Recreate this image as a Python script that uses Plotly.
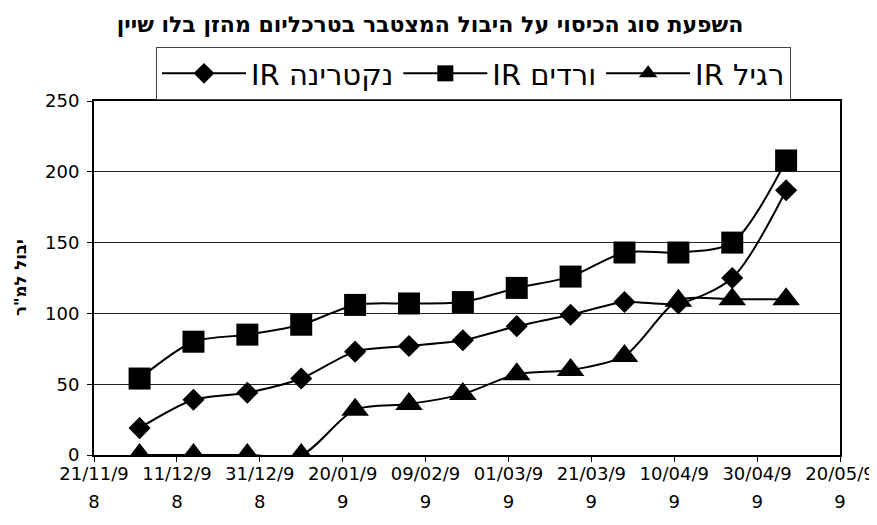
import plotly.graph_objects as go

# ---- data ----
dates = ["1998-12-02", "1998-12-15", "1998-12-28", "1999-01-10", "1999-01-23",
         "1999-02-05", "1999-02-18", "1999-03-03", "1999-03-16", "1999-03-29",
         "1999-04-11", "1999-04-24", "1999-05-07"]
nectarine_ir = [19, 39, 44, 54, 73, 77, 81, 91, 99, 108, 107, 125, 187]
roses_ir = [54, 80, 85, 92, 106, 107, 108, 118, 126, 143, 143, 150, 208]
regular_ir = [0, 0, 0, 0, 32, 36, 43, 57, 60, 70, 109, 110, 110]

series_names = ["IR נקטרינה", "IR ורדים", "IR רגיל"]

tick_dates = ["1998-11-21", "1998-12-11", "1998-12-31", "1999-01-20", "1999-02-09",
              "1999-03-01", "1999-03-21", "1999-04-10", "1999-04-30", "1999-05-20"]
tick_labels = ["21/11/98", "11/12/98", "31/12/98", "20/01/99", "09/02/99",
               "01/03/99", "21/03/99", "10/04/99", "30/04/99", "20/05/99"]

title_text = "השפעת סוג הכיסוי על היבול המצטבר בטרכליום מהזן בלו שיין"
y_title = 'יבול למ"ר'

# ---- figure ----
FONT = "DejaVu Sans"
TICK_FONT = dict(family=FONT, size=18, color="black")
fig = go.Figure()

specs = [(nectarine_ir, "diamond", 17), (roses_ir, "square", 22), (regular_ir, "triangle-up", 24)]
for name, (vals, sym, sz) in zip(series_names, specs):
    fig.add_trace(go.Scatter(
        x=dates, y=vals, name=name, mode="lines+markers",
        line=dict(color="black", width=2, shape="spline", smoothing=0.8),
        marker=dict(symbol=sym, size=sz, color="black"),
    ))

# invisible trace on second x axis that carries the wrapped 2nd line of the date labels
fig.add_trace(go.Scatter(x=[tick_dates[0]], y=[None], xaxis="x2", showlegend=False,
                         hoverinfo="skip"))

line1 = [t[:-1] for t in tick_labels]
line2 = [t[-1] for t in tick_labels]

# the page body adds an 8px offset, so the canvas is 8px smaller than the window
OFF = 8
W, H = 877 - OFF, 525 - OFF
ML, MR, MT, MB = 94 - OFF, 37, 101 - OFF, 70
PW = W - ML - MR
PH = H - MT - MB
xrange = ["1998-11-21", "1999-05-20"]
fig.update_layout(
    width=W, height=H,
    margin=dict(l=ML, r=MR, t=MT, b=MB, autoexpand=False),
    paper_bgcolor="white", plot_bgcolor="white",
    title=dict(text=f"<b>{title_text}</b>", x=(430 - OFF) / W, xanchor="center",
               y=1 - (24 - OFF) / H, yanchor="middle",
               font=dict(family=FONT, size=22, color="black")),
    xaxis=dict(type="date", range=xrange, tickmode="array", tickvals=tick_dates,
               ticktext=line1, tickfont=TICK_FONT, ticks="outside", ticklen=5,
               tickcolor="black", showgrid=False, showline=True, linecolor="black",
               linewidth=2, mirror=True, zeroline=False, automargin=False,
               ticklabelstandoff=-4),
    xaxis2=dict(type="date", range=xrange, overlaying="x", anchor="y", side="bottom",
                tickmode="array", tickvals=tick_dates, ticktext=line2,
                tickfont=TICK_FONT, ticks="", showgrid=False, showline=False,
                zeroline=False, ticklabelstandoff=34, automargin=False),
    yaxis=dict(range=[0, 250], tickvals=[0, 50, 100, 150, 200, 250],
               tickfont=TICK_FONT, ticks="outside", ticklen=5, tickcolor="black",
               showgrid=True, gridcolor="#222222", gridwidth=1,
               showline=True, linecolor="black", linewidth=2, mirror=True,
               zeroline=False, automargin=False, ticklabelstandoff=4),
    legend=dict(orientation="h", x=(156 - 94) / PW, xanchor="left",
                y=(455 - 47) / PH, yanchor="top", bordercolor="#444444", borderwidth=1,
                font=dict(family=FONT, size=29, color="black"),
                bgcolor="white", traceorder="normal", itemwidth=84),
    showlegend=True,
    annotations=[dict(text=f"<b>{y_title}</b>", textangle=-90, xref="paper", yref="paper",
                      x=-(94 - 20) / PW, y=0.5, xanchor="center",
                      yanchor="middle", showarrow=False,
                      font=dict(family=FONT, size=16.5, color="black"))],
)

fig.write_html("out.html")
